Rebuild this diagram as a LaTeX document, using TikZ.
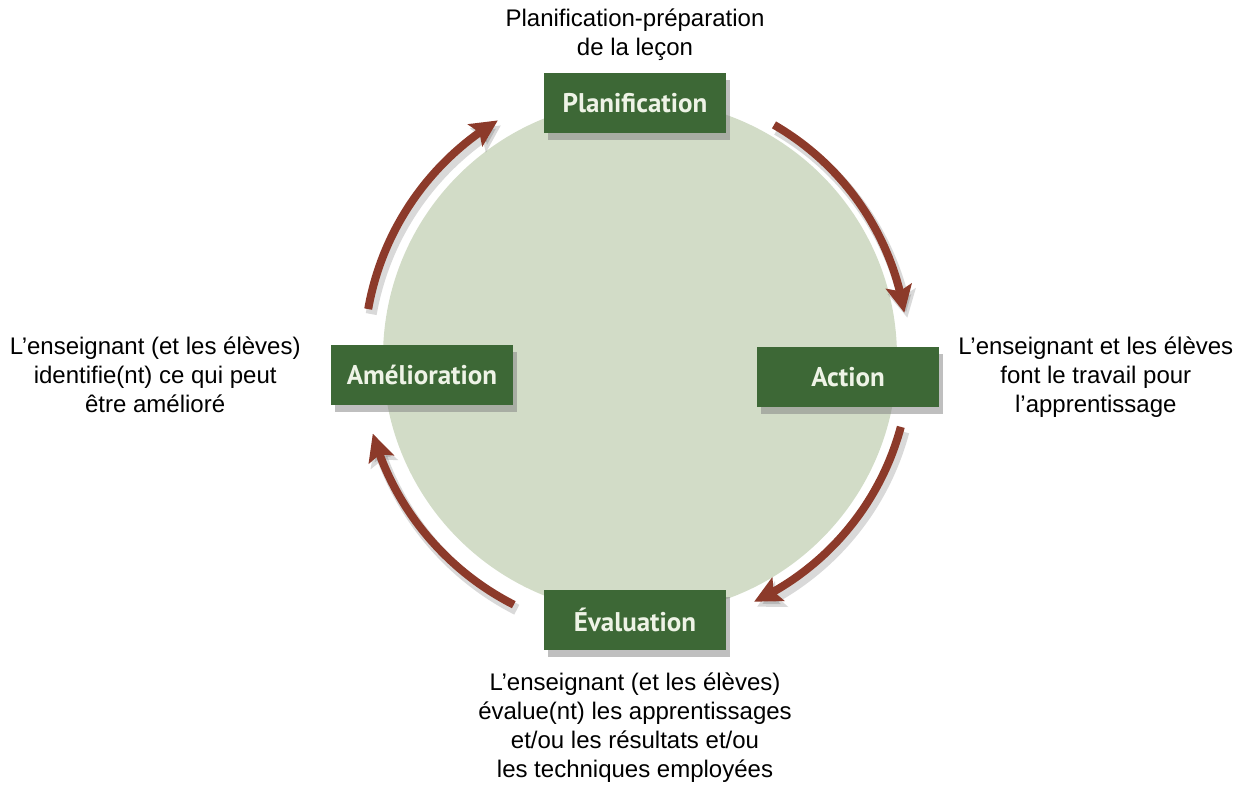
\documentclass[tikz,border=0pt]{standalone}
\usepackage{fontspec}
\setmainfont{Liberation Sans}
\newfontfamily\boxfont{PT Sans}
\usepackage{tikz}
\usetikzlibrary{positioning,shadows,arrows.meta,bending,calc}
\definecolor{boxgreen}{RGB}{61,104,54}
\definecolor{discgreen}{RGB}{210,220,199}
\definecolor{arrowred}{RGB}{140,58,42}
\definecolor{boxtext}{RGB}{238,243,230}

\begin{document}
\begin{tikzpicture}
		[x=1pt,y=1pt,
		disc/.style={circle,fill=discgreen,draw=none,inner sep=0pt,minimum size=514pt},
		stage/.style={rectangle,fill=boxgreen,text=boxtext,inner sep=0pt,minimum width=182pt,minimum height=60pt,
			font=\boxfont\bfseries\fontsize{27pt}{32pt}\selectfont,
			drop shadow={opacity=0.5,shadow xshift=4pt,shadow yshift=-7pt}},
		note/.style={align=center,inner sep=0pt,font=\fontsize{24pt}{29pt}\selectfont},
		cyclearrow/.style={line width=8pt,draw=arrowred,-{Stealth[length=27pt,width=26pt,inset=5pt]}},
		cycleshade/.style={line width=11pt,draw=black,opacity=0.15,-{Stealth[length=27pt,width=28pt,inset=5pt]}}]
		\useasboundingbox (0,0) rectangle (1250,797);
		\node [disc] (disc) at (640,440) {};

		% start points of the four arrows
		\coordinate (s1) at ($(disc.center)+(60:268)$);
		\coordinate (s2) at ($(disc.center)+(-15:270)$);
		\coordinate (s3) at ($(disc.center)+(-117:278)$);
		\coordinate (s4) at ($(disc.center)+(170:276)$);

		\draw [cycleshade] ([shift={(3,-5)}]s1) arc [start angle=60, end angle=9.5, radius=268];
		\draw [cycleshade] ([shift={(3,-5)}]s2) arc [start angle=-15, end angle=-65, radius=270];
		\draw [cycleshade] ([shift={(3,-5)}]s3) arc [start angle=-117, end angle=-164, radius=278];
		\draw [cycleshade] ([shift={(3,-5)}]s4) arc [start angle=170, end angle=121, radius=276];

		\draw [cyclearrow] (s1) arc [start angle=60, end angle=9.5, radius=268];
		\draw [cyclearrow] (s2) arc [start angle=-15, end angle=-65, radius=270];
		\draw [cyclearrow] (s3) arc [start angle=-117, end angle=-164, radius=278];
		\draw [cyclearrow] (s4) arc [start angle=170, end angle=121, radius=276];

		\node [stage] (plan) at (635,694) {Planification};
		\node [stage] (act) at (848,420) {Action};
		\node [stage] (eval) at (635,177) {Évaluation};
		\node [stage] (amel) at (422,422) {Amélioration};

		\node [note] (tplan) [above=12pt of plan] {Planification-préparation\\de la leçon};
		\node [note] (tact) [right=19pt of act] {L’enseignant et les élèves\\font le travail pour\\l’apprentissage};
		\node [note] (teval) [below=22pt of eval] {L’enseignant (et les élèves)\\évalue(nt) les apprentissages\\et/ou les résultats et/ou\\les techniques employées};
		\node [note] (tamel) [left=30pt of amel] {L’enseignant (et les élèves)\\identifie(nt) ce qui peut\\être amélioré};
	\end{tikzpicture}
\end{document}
